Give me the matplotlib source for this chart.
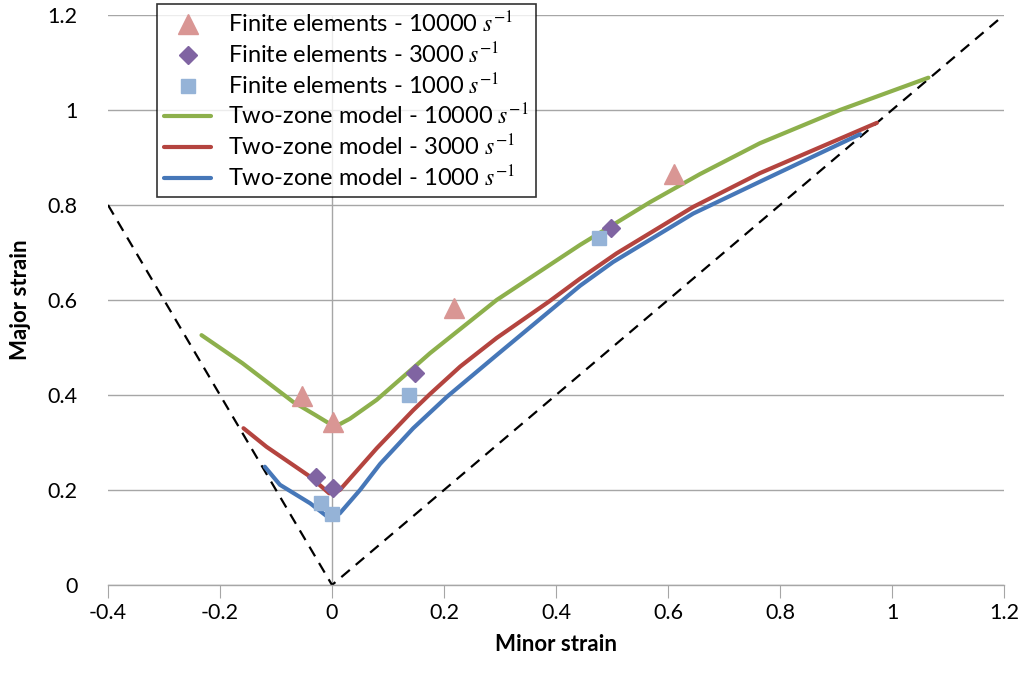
import numpy as np
import matplotlib
matplotlib.use('Agg')
import matplotlib.pyplot as plt

plt.rcParams['font.family'] = ['Lato', 'DejaVu Sans']
plt.rcParams['mathtext.fontset'] = 'stix'

# finite element points (minor strain, major strain)
fe_10000_x = [-0.054, 0.001, 0.218, 0.611]
fe_10000_y = [0.397, 0.344, 0.583, 0.866]
fe_3000_x = [-0.029, 0.001, 0.148, 0.498]
fe_3000_y = [0.228, 0.204, 0.447, 0.752]
fe_1000_x = [-0.020, 0.000, 0.138, 0.476]
fe_1000_y = [0.172, 0.149, 0.401, 0.731]

# two-zone model curves
tz_10000_x = [-0.233, -0.16, -0.07, -0.03, 0.005, 0.032, 0.08, 0.148, 0.175, 0.294,
              0.407, 0.443, 0.568, 0.657, 0.764, 0.907, 1.065]
tz_10000_y = [0.526, 0.467, 0.386, 0.358, 0.333, 0.350, 0.390, 0.460, 0.488, 0.600,
              0.688, 0.716, 0.806, 0.865, 0.930, 1.000, 1.068]
tz_3000_x = [-0.158, -0.117, -0.039, -0.005, 0.014, 0.08, 0.145, 0.175, 0.229, 0.294,
             0.389, 0.443, 0.508, 0.645, 0.764, 0.973]
tz_3000_y = [0.330, 0.291, 0.228, 0.193, 0.200, 0.288, 0.368, 0.402, 0.460, 0.520,
             0.598, 0.645, 0.698, 0.796, 0.867, 0.973]
tz_1000_x = [-0.12, -0.093, -0.039, -0.004, 0.014, 0.05, 0.086, 0.145, 0.205, 0.294,
             0.443, 0.502, 0.645, 0.764, 0.943]
tz_1000_y = [0.249, 0.211, 0.172, 0.140, 0.151, 0.200, 0.255, 0.330, 0.396, 0.484,
             0.630, 0.680, 0.782, 0.849, 0.949]

# forming limit bounds (dashed)
bound_x = [-0.4, 0.0, 1.2]
bound_y = [0.8, 0.0, 1.2]

fig = plt.figure(figsize=(10.26, 6.77), dpi=100)
ax = fig.add_axes([108 / 1026, 1 - 585 / 677, 896 / 1026, 570 / 677])

gray = '#a6a6a6'
ax.plot(bound_x, bound_y, color='black', lw=1.6, ls=(0, (5, 3.5)), zorder=2)

l1, = ax.plot(fe_10000_x, fe_10000_y, ls='none', marker='^', ms=14, color='#d99694',
              label='Finite elements - 10000 $s^{-1}$', zorder=4)
l2, = ax.plot(fe_3000_x, fe_3000_y, ls='none', marker='D', ms=9, color='#8064a2',
              label='Finite elements - 3000 $s^{-1}$', zorder=4)
l3, = ax.plot(fe_1000_x, fe_1000_y, ls='none', marker='s', ms=10, color='#95b3d7',
              label='Finite elements - 1000 $s^{-1}$', zorder=4)
l4, = ax.plot(tz_10000_x, tz_10000_y, color='#8db04c', lw=3, solid_capstyle='round',
              label='Two-zone model - 10000 $s^{-1}$', zorder=3)
l5, = ax.plot(tz_3000_x, tz_3000_y, color='#b4443f', lw=3, solid_capstyle='round',
              label='Two-zone model - 3000 $s^{-1}$', zorder=3)
l6, = ax.plot(tz_1000_x, tz_1000_y, color='#4677b8', lw=3, solid_capstyle='round',
              label='Two-zone model - 1000 $s^{-1}$', zorder=3)

ax.set_xlim(-0.4, 1.2)
ax.set_ylim(0, 1.2)
ax.set_xticks(np.arange(-0.4, 1.21, 0.2))
ax.set_yticks(np.arange(0, 1.21, 0.2))
ax.set_xticklabels(['-0.4', '-0.2', '0', '0.2', '0.4', '0.6', '0.8', '1', '1.2'])
ax.set_yticklabels(['0', '0.2', '0.4', '0.6', '0.8', '1', '1.2'])

for s in ['top', 'right', 'left']:
    ax.spines[s].set_visible(False)
ax.spines['bottom'].set_color(gray)
ax.spines['bottom'].set_linewidth(1)
ax.axvline(0, color=gray, lw=1, zorder=1)
ax.grid(axis='y', color=gray, lw=1)
ax.set_axisbelow(True)
ax.tick_params(axis='x', length=9, color=gray, labelsize=15.5, pad=4)
ax.tick_params(axis='y', length=0, labelsize=15.5, pad=22)

ax.set_xlabel('Minor strain', fontsize=16, fontweight='bold', labelpad=8)
ax.set_ylabel('Major strain', fontsize=16, fontweight='bold', labelpad=12)

leg = ax.legend(handles=[l1, l2, l3, l4, l5, l6], loc='upper left',
                bbox_to_anchor=(157 / 1026, 1 - 4 / 677), bbox_transform=fig.transFigure,
                prop={'size': 17}, frameon=True, fancybox=False, edgecolor='black',
                handlelength=2.0, handletextpad=0.7, borderpad=0.3, labelspacing=0.22,
                borderaxespad=0)
leg.get_frame().set_linewidth(1.2)
leg.set_zorder(5)

plt.savefig('out.png', dpi=100)
